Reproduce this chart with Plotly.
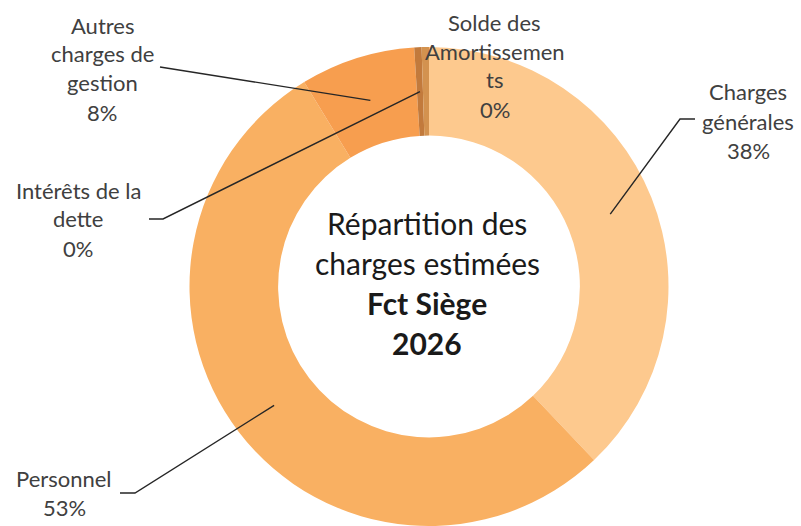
import math
import plotly.graph_objects as go

# ---- data ----
categories = ["Charges générales", "Personnel", "Autres charges de gestion",
              "Intérêts de la dette", "Solde des Amortissements"]
values = [37.7, 53.1, 7.7, 0.49, 0.49]
label_lines = [
    ["Charges", "générales"],
    ["Personnel"],
    ["Autres", "charges de", "gestion"],
    ["Intérêts de la", "dette"],
    ["Solde des", "Amortissemen", "ts"],
]
colors = ["#FDC98E", "#F9B062", "#F79E4F", "#C27A3C", "#D3924F"]
title_lines = ["Répartition des", "charges estimées", "<b>Fct Siège</b>", "<b>2026</b>"]

W, H = 801, 526
CX, CY, R = 429, 286.5, 239.5
HOLE = 0.63
FONT = "Lato, Carlito, Calibri, 'Open Sans', sans-serif"

def px(x):
    return x / W

def py(y):
    return 1 - y / H

fig = go.Figure(go.Pie(
    labels=categories,
    values=values,
    sort=False,
    direction="clockwise",
    rotation=0,
    hole=HOLE,
    marker=dict(colors=colors, line=dict(width=0)),
    textinfo="none",
    hoverinfo="label+percent",
    showlegend=False,
    domain=dict(x=[(CX - R) / W, (CX + R) / W], y=[0, 1 - (CY - R) / H]),
))

total = sum(values)
pcts = [round(v / total * 100) for v in values]

# slice mid angles (clockwise from 12 o'clock)
mids = []
acc = 0
for v in values:
    mids.append((acc + v / 2) / total * 2 * math.pi)
    acc += v
rm = R * (1 + HOLE) / 2

def tip(i):
    a = mids[i]
    return CX + rm * math.sin(a), CY - rm * math.cos(a)

# label layout: (text center x, first line center y, leader elbow points)
LS = 29
label_layout = {
    0: dict(x=748, y=92, path=[(680, 119), (695, 119)]),
    1: dict(x=64, y=478, path=[(135, 493), (120, 493)]),
    2: dict(x=102, y=25, path=[(160, 67), (160, 67)]),
    3: dict(x=78, y=190, path=[(163, 219), (149, 219)]),
    4: dict(x=495, y=22, path=None),
}

annotations = []
shapes = []
for i, cat in enumerate(categories):
    lay = label_layout[i]
    lines = label_lines[i] + [f"{pcts[i]}%"]
    for k, t in enumerate(lines):
        annotations.append(dict(
            x=px(lay["x"]), y=py(lay["y"] + k * LS), xref="paper", yref="paper",
            text=t, showarrow=False, xanchor="center", yanchor="middle",
            font=dict(family=FONT, size=22, color="#404040"),
        ))
    if lay["path"]:
        tx, ty = tip(i)
        pts = [(tx, ty)] + lay["path"]
        d = "M " + " L ".join(f"{px(a)},{py(b)}" for a, b in pts)
        shapes.append(dict(type="path", path=d, xref="paper", yref="paper",
                           line=dict(color="#262626", width=1.4)))

for k, t in enumerate(title_lines):
    annotations.append(dict(
        x=px(427), y=py(223 + k * 40), xref="paper", yref="paper",
        text=t, showarrow=False, xanchor="center", yanchor="middle",
        font=dict(family=FONT, size=30, color="#1a1a1a"),
    ))

fig.update_layout(
    width=W, height=H,
    margin=dict(l=0, r=0, t=0, b=0),
    paper_bgcolor="white", plot_bgcolor="white",
    annotations=annotations, shapes=shapes,
)

fig.write_html("out.html",
               config={"displayModeBar": False},
               post_script="document.body.style.margin='0';document.body.style.overflow='hidden';")
